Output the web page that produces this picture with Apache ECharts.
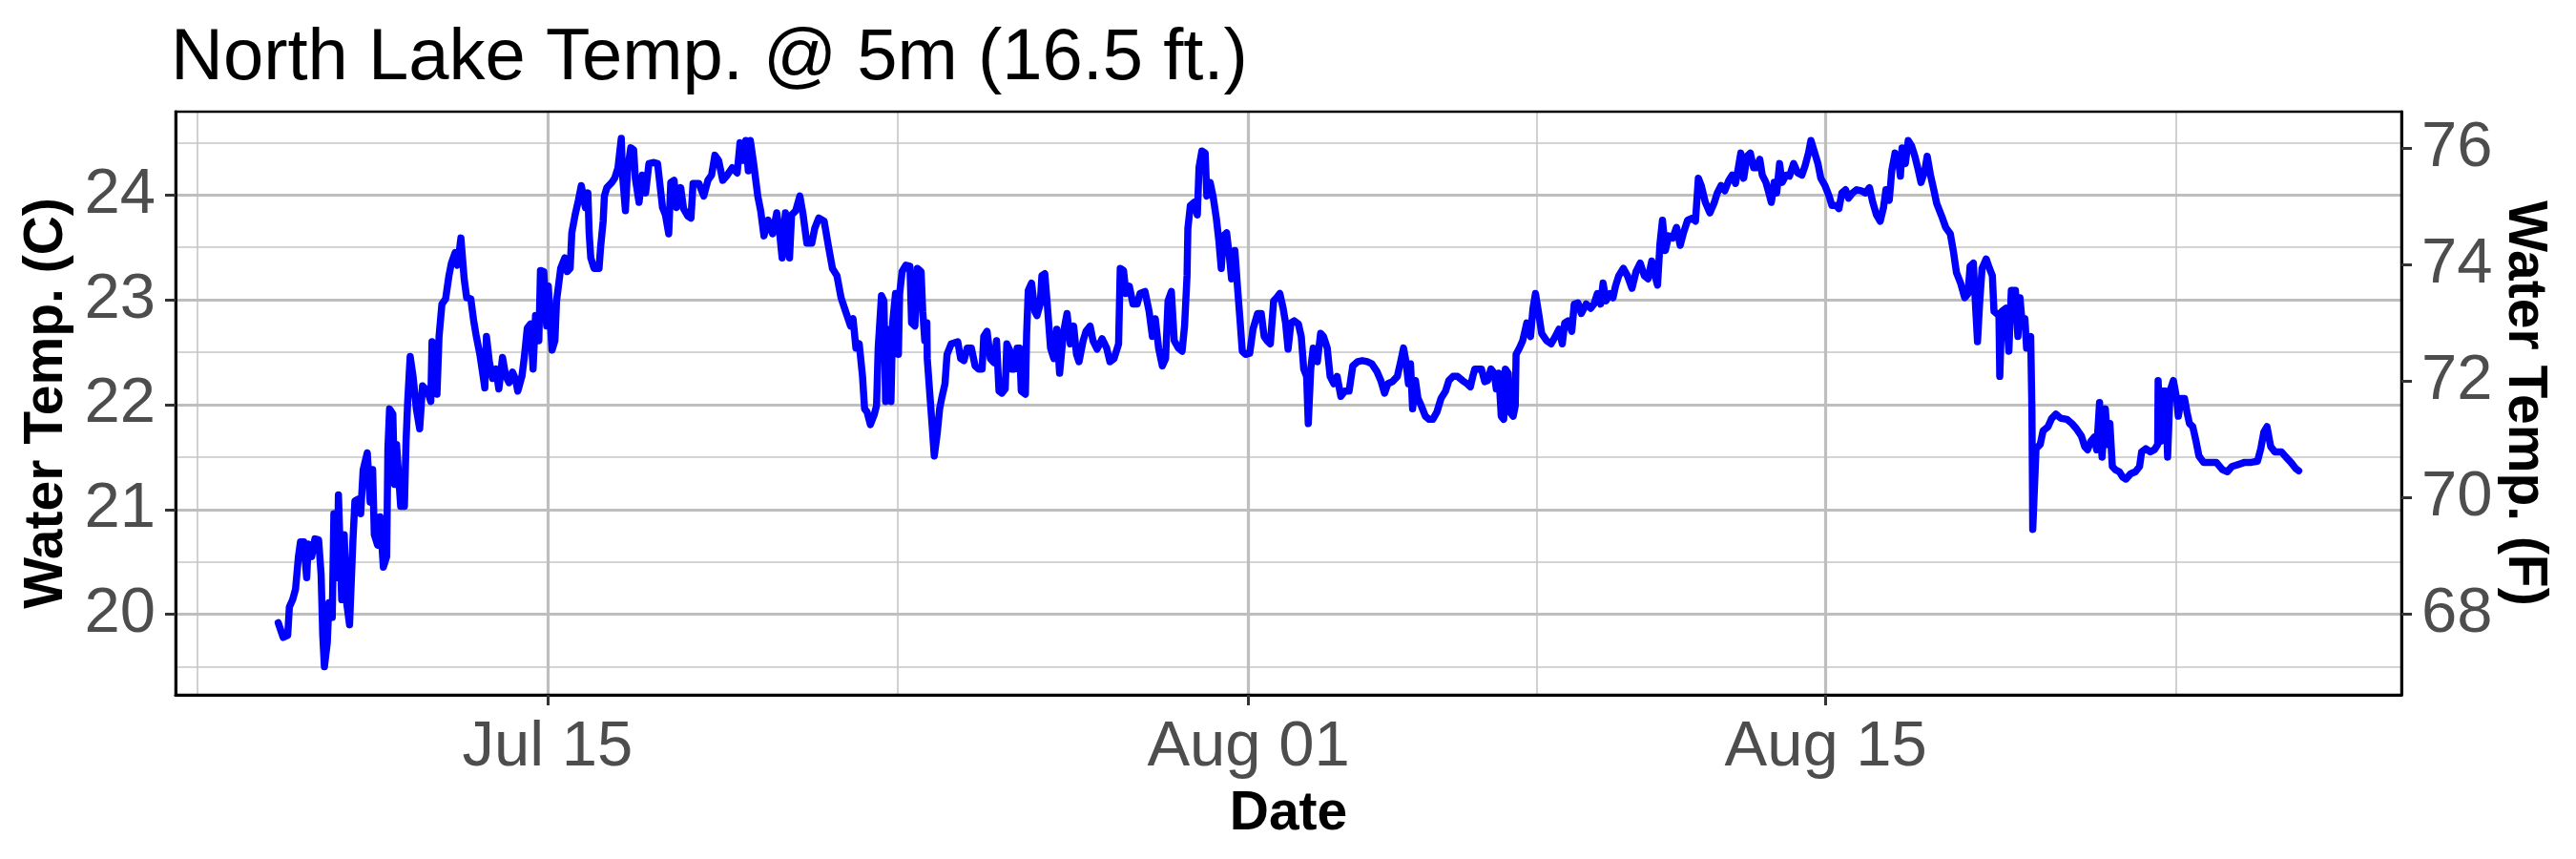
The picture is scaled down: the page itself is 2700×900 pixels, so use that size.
<!DOCTYPE html>
<html><head><meta charset="utf-8">
<script src="https://cdn.jsdelivr.net/npm/echarts@6.0.0/dist/echarts.min.js"></script>
<style>html,body{margin:0;padding:0;background:#fff}#c{width:2700px;height:900px}</style>
</head><body><div id="c"></div>
<script>
// x values are days after Jul 1 (Jul 15 = 14, Aug 01 = 31, Aug 15 = 45); y values are water temperature in deg C
const seg1 = [[7.47,19.92],[7.59,19.78],[7.70,19.80],[7.74,20.07],[7.82,20.14],[7.89,20.24],[7.96,20.55],[8.01,20.69],[8.09,20.69],[8.16,20.35],[8.20,20.67],[8.28,20.55],[8.36,20.72],[8.45,20.71],[8.51,20.38],[8.55,19.80],[8.59,19.50],[8.66,19.73],[8.70,20.11],[8.78,19.97],[8.82,20.96],[8.90,20.35],[8.93,21.14],[9.01,20.14],[9.07,20.76],[9.13,20.11],[9.20,19.90],[9.28,20.69],[9.33,21.08],[9.41,21.10],[9.47,20.96],[9.53,21.38],[9.63,21.54],[9.70,21.07],[9.76,21.38],[9.80,20.76],[9.88,20.66],[9.94,20.93],[10.02,20.45],[10.10,20.55],[10.13,21.58],[10.17,21.96],[10.25,21.91],[10.29,21.24],[10.34,21.62],[10.44,21.03],[10.53,21.03],[10.57,21.65],[10.61,22.03],[10.67,22.46],[10.74,22.27],[10.82,21.96],[10.90,21.77],[10.97,22.18],[11.09,22.13],[11.17,22.03],[11.20,22.60],[11.32,22.10],[11.37,22.65],[11.44,22.96],[11.53,23.01],[11.61,23.23],[11.67,23.35],[11.76,23.45],[11.82,23.33],[11.90,23.59],[11.98,23.20],[12.04,23.02],[12.14,23.01],[12.21,22.80],[12.27,22.66],[12.36,22.48],[12.44,22.27],[12.48,22.16],[12.52,22.65],[12.59,22.41],[12.67,22.25],[12.75,22.34],[12.82,22.15],[12.91,22.45],[12.99,22.27],[13.07,22.21],[13.15,22.31],[13.22,22.25],[13.28,22.13],[13.38,22.27],[13.44,22.46],[13.51,22.73],[13.59,22.77],[13.65,22.34],[13.71,22.85],[13.79,22.61],[13.83,23.28],[13.91,23.27],[13.98,22.75],[14.02,23.13],[14.11,22.52],[14.18,22.61],[14.22,22.99],[14.32,23.30],[14.42,23.40]];
const seg2 = [[14.48,23.27],[14.55,23.30],[14.59,23.64],[14.67,23.81],[14.75,23.95],[14.82,24.09],[14.92,23.88],[14.98,24.02],[15.01,23.64],[15.05,23.40],[15.13,23.30],[15.25,23.30],[15.29,23.51],[15.35,23.75],[15.38,23.99],[15.44,24.07],[15.56,24.12],[15.63,24.16],[15.71,24.26],[15.79,24.54],[15.82,24.19],[15.89,23.85],[15.94,24.23],[16.02,24.45],[16.09,24.43],[16.13,24.16],[16.22,23.93],[16.30,24.19],[16.38,24.02],[16.46,24.30],[16.56,24.31],[16.67,24.30],[16.73,24.09],[16.79,23.88],[16.86,23.81],[16.94,23.63],[16.99,24.12],[17.07,24.14],[17.13,23.88],[17.23,24.07],[17.30,23.87],[17.40,23.80],[17.48,23.78],[17.53,24.11],[17.67,24.11],[17.79,23.99],[17.89,24.14],[17.98,24.19],[18.06,24.38],[18.15,24.33],[18.25,24.14],[18.36,24.19],[18.48,24.26],[18.60,24.21],[18.67,24.50],[18.75,24.33],[18.81,24.52],[18.87,24.23],[18.92,24.52],[19.00,24.30],[19.10,23.99],[19.17,23.85],[19.25,23.61],[19.35,23.76],[19.46,23.63],[19.56,23.83],[19.63,23.64],[19.69,23.40],[19.77,23.83],[19.87,23.40],[19.92,23.81],[20.02,23.85],[20.12,23.99],[20.20,23.81],[20.29,23.54],[20.41,23.54],[20.48,23.68],[20.58,23.78],[20.71,23.75],[20.81,23.52],[20.91,23.30],[21.02,23.23],[21.12,23.02],[21.23,22.89],[21.35,22.75]];
const seg3 = [[21.41,22.82],[21.48,22.54],[21.56,22.58],[21.64,22.27],[21.69,21.96],[21.75,21.93],[21.83,21.81],[21.92,21.90],[21.98,21.99],[22.02,22.54],[22.10,23.04],[22.16,22.99],[22.20,22.03],[22.25,22.72],[22.33,22.03],[22.37,22.78],[22.44,23.06],[22.51,22.48],[22.54,23.06],[22.60,23.27],[22.69,23.33],[22.79,23.32],[22.83,22.78],[22.91,22.75],[22.97,23.30],[23.06,23.27],[23.10,22.89],[23.15,22.61],[23.20,22.78],[23.21,22.44],[23.28,22.06],[23.33,21.79],[23.38,21.51],[23.45,21.72],[23.51,21.96],[23.56,22.06],[23.64,22.20],[23.69,22.48],[23.79,22.58],[23.95,22.60],[24.02,22.44],[24.10,22.42],[24.18,22.54],[24.28,22.54],[24.37,22.37],[24.45,22.34],[24.54,22.34],[24.58,22.65],[24.66,22.70],[24.74,22.44],[24.83,22.40],[24.89,22.61],[24.95,22.13],[25.02,22.11],[25.10,22.15],[25.14,22.58],[25.22,22.51],[25.25,22.34],[25.33,22.34],[25.39,22.54],[25.45,22.54],[25.49,22.13],[25.59,22.10],[25.62,22.68],[25.66,23.09],[25.74,23.16],[25.82,22.89],[25.87,22.85],[25.95,22.96],[25.99,23.23],[26.06,23.25],[26.12,22.96],[26.20,22.54],[26.28,22.44],[26.35,22.72],[26.42,22.30],[26.51,22.68],[26.60,22.87],[26.68,22.58],[26.76,22.75],[26.83,22.48],[26.89,22.41],[26.99,22.61],[27.06,22.70],[27.16,22.75],[27.23,22.61],[27.33,22.53],[27.45,22.63],[27.56,22.54],[27.64,22.41],[27.74,22.44],[27.85,22.58],[27.89,23.30],[27.97,23.28],[28.03,23.06],[28.11,23.13],[28.20,22.96],[28.30,22.96],[28.37,23.06],[28.49,23.08]];
const seg4 = [[28.59,22.89],[28.67,22.65],[28.74,22.82],[28.82,22.54],[28.91,22.37],[28.99,22.44],[29.05,22.99],[29.13,23.08],[29.20,22.61],[29.30,22.54],[29.39,22.51],[29.45,22.75],[29.51,23.23],[29.53,23.68],[29.59,23.90],[29.68,23.93],[29.76,23.81],[29.80,24.26],[29.87,24.42],[29.95,24.40],[29.99,23.99],[30.07,24.12],[30.14,23.99],[30.22,23.78],[30.28,23.57],[30.34,23.30],[30.39,23.61],[30.47,23.64],[30.53,23.44],[30.59,23.20],[30.67,23.47],[30.74,23.09],[30.80,22.78],[30.85,22.51],[30.93,22.48],[31.03,22.49],[31.11,22.72],[31.22,22.87],[31.31,22.87],[31.38,22.65],[31.45,22.61],[31.53,22.58],[31.61,22.99],[31.68,23.02],[31.76,23.06],[31.84,22.92],[31.90,22.78],[31.96,22.53],[32.03,22.78],[32.11,22.80],[32.21,22.77],[32.28,22.65],[32.34,22.34],[32.41,22.27],[32.45,21.82],[32.51,22.34],[32.57,22.54],[32.67,22.41],[32.75,22.68],[32.82,22.65],[32.91,22.54],[32.98,22.27],[33.07,22.20],[33.15,22.27],[33.24,22.08],[33.34,22.13],[33.44,22.13],[33.53,22.37],[33.65,22.41],[33.76,22.42],[33.88,22.41],[33.99,22.39],[34.11,22.32],[34.21,22.23],[34.30,22.11],[34.38,22.20],[34.49,22.22],[34.61,22.27],[34.69,22.41],[34.76,22.54],[34.82,22.41],[34.88,22.20],[34.93,22.39],[34.98,21.96],[35.05,22.23],[35.11,22.06],[35.19,21.99],[35.29,21.89],[35.38,21.86],[35.47,21.86],[35.57,21.93],[35.67,22.06]];
const seg5 = [[35.78,22.13],[35.86,22.23],[35.96,22.27],[36.07,22.27],[36.19,22.23],[36.30,22.20],[36.38,22.17],[36.44,22.27],[36.49,22.34],[36.57,22.34],[36.65,22.34],[36.73,22.22],[36.80,22.23],[36.88,22.34],[36.96,22.30],[37.01,22.15],[37.07,22.30],[37.13,21.89],[37.19,21.86],[37.23,22.34],[37.30,22.30],[37.34,21.93],[37.42,21.89],[37.47,21.99],[37.49,22.48],[37.57,22.54],[37.65,22.61],[37.75,22.78],[37.84,22.65],[37.90,22.92],[37.96,23.06],[38.03,22.89],[38.11,22.68],[38.23,22.61],[38.34,22.58],[38.44,22.65],[38.53,22.72],[38.61,22.58],[38.67,22.78],[38.75,22.80],[38.84,22.70],[38.90,22.96],[38.99,22.97],[39.07,22.87],[39.19,22.96],[39.30,22.92],[39.38,22.96],[39.46,23.06],[39.54,22.96],[39.60,23.16],[39.67,22.99],[39.77,23.06],[39.84,23.02],[39.90,23.13],[39.98,23.23],[40.09,23.30],[40.19,23.23],[40.30,23.11],[40.40,23.27],[40.50,23.35],[40.60,23.23],[40.69,23.20],[40.78,23.37],[40.86,23.23],[40.92,23.14],[40.98,23.54],[41.04,23.76],[41.11,23.47],[41.19,23.61],[41.29,23.59],[41.38,23.69],[41.47,23.52],[41.55,23.64],[41.65,23.76],[41.77,23.78],[41.84,23.75],[41.91,24.16],[41.98,24.09],[42.08,23.93],[42.19,23.83],[42.29,23.92],[42.37,24.02],[42.46,24.09],[42.55,24.04],[42.65,24.14],[42.73,24.19],[42.81,24.11]];
const seg6 = [[42.88,24.26],[42.94,24.40],[43.01,24.16],[43.09,24.37],[43.17,24.40],[43.25,24.26],[43.32,24.26],[43.40,24.34],[43.46,24.19],[43.55,24.12],[43.62,24.02],[43.68,23.93],[43.75,24.12],[43.81,24.02],[43.88,24.30],[43.94,24.12],[44.04,24.19],[44.12,24.18],[44.22,24.30],[44.32,24.21],[44.42,24.19],[44.50,24.28],[44.58,24.40],[44.64,24.52],[44.71,24.43],[44.81,24.30],[44.88,24.16],[44.98,24.09],[45.08,23.99],[45.15,23.90],[45.25,23.90],[45.32,23.87],[45.39,24.02],[45.48,24.05],[45.55,23.97],[45.65,24.02],[45.75,24.05],[45.86,24.04],[45.96,24.02],[46.06,24.07],[46.14,23.93],[46.23,23.81],[46.32,23.75],[46.40,23.88],[46.46,24.05],[46.54,23.95],[46.60,24.23],[46.68,24.40],[46.76,24.35],[46.81,24.18],[46.85,24.45],[46.93,24.30],[47.00,24.52],[47.08,24.47],[47.16,24.37],[47.23,24.26],[47.31,24.12],[47.40,24.23],[47.46,24.37],[47.54,24.19],[47.62,24.05],[47.69,23.92],[47.81,23.80],[47.91,23.69],[48.02,23.63],[48.10,23.45],[48.17,23.26],[48.27,23.16],[48.37,23.02],[48.45,23.06],[48.50,23.32],[48.58,23.35],[48.63,22.96],[48.68,22.60],[48.73,22.96],[48.79,23.30],[48.89,23.39],[48.97,23.30],[49.04,23.23],[49.08,22.89],[49.20,22.85],[49.22,22.27],[49.27,22.89],[49.37,22.92],[49.44,22.51],[49.50,23.09],[49.60,23.09],[49.66,22.65],[49.71,23.02],[49.77,22.75],[49.83,22.82],[49.87,22.54],[49.97,22.65],[50.00,21.93]];
const seg7 = [[50.02,20.81],[50.10,21.58],[50.20,21.62],[50.27,21.75],[50.39,21.79],[50.48,21.87],[50.58,21.91],[50.70,21.87],[50.85,21.86],[50.97,21.82],[51.08,21.77],[51.20,21.70],[51.28,21.60],[51.35,21.57],[51.43,21.65],[51.51,21.69],[51.57,21.57],[51.64,22.02],[51.70,21.50],[51.78,21.96],[51.84,21.62],[51.89,21.82],[51.95,21.41],[52.02,21.38],[52.12,21.36],[52.20,21.31],[52.28,21.29],[52.39,21.34],[52.51,21.36],[52.61,21.41],[52.66,21.55],[52.76,21.58],[52.87,21.55],[52.97,21.57],[53.05,21.62],[53.06,22.23],[53.12,21.65],[53.16,22.13],[53.24,22.13],[53.29,21.50],[53.35,22.13],[53.43,22.23],[53.51,22.06],[53.55,21.89],[53.62,22.06],[53.70,22.06],[53.76,21.93],[53.82,21.82],[53.90,21.79],[53.98,21.65],[54.05,21.51],[54.16,21.45],[54.32,21.45],[54.47,21.45],[54.62,21.38],[54.74,21.36],[54.85,21.41],[55.01,21.43],[55.16,21.45],[55.32,21.45],[55.47,21.46],[55.55,21.58],[55.625,21.74],[55.70,21.79],[55.79,21.60],[55.89,21.55],[56.05,21.55],[56.16,21.50],[56.28,21.45],[56.40,21.39],[56.47,21.37]];

const xTickDays = [14, 31, 45];
const xTickLabels = ['Jul 15', 'Aug 01', 'Aug 15'];
const xMinorDays = [5.5, 22.5, 38, 53.5];
const yTicksC = [20, 21, 22, 23, 24];
const yMinorC = [19.5, 20.5, 21.5, 22.5, 23.5, 24.5];
const yTicksF = [68, 70, 72, 74, 76];
const xRange = [4.98, 58.96];
const yRangeC = [19.232, 24.795];

const FONT = '"Liberation Sans", Arial, sans-serif';
const allData = [].concat(seg1, seg2, seg3, seg4, seg5, seg6, seg7);
const toF = c => c * 1.8 + 32;

const majorStyle = { color: '#BEBEBE', width: 3.2, type: 'solid' };
const minorStyle = { color: '#C6C6C6', width: 1.6, type: 'solid' };
const gridMarks = [].concat(
  yMinorC.map(v => ({ yAxis: v, lineStyle: minorStyle })),
  xMinorDays.map(v => ({ xAxis: v, lineStyle: minorStyle })),
  yTicksC.map(v => ({ yAxis: v, lineStyle: majorStyle })),
  xTickDays.map(v => ({ xAxis: v, lineStyle: majorStyle }))
);

const tickStyle = { show: true, length: 11, lineStyle: { color: '#333333', width: 3 } };
const labelStyle = { fontSize: 67, color: '#4D4D4D', fontFamily: FONT };
const nameStyle = { fontSize: 57, fontWeight: 'bold', color: '#000', fontFamily: FONT };

const chart = echarts.init(document.getElementById('c'), null, { renderer: 'canvas' });
chart.setOption({
  animation: false,
  backgroundColor: '#fff',
  textStyle: { fontFamily: FONT },
  title: {
    text: 'North Lake Temp. @ 5m (16.5 ft.)',
    left: 174, top: 19,
    textStyle: { fontSize: 76, fontWeight: 'normal', color: '#000', fontFamily: FONT }
  },
  grid: { left: 184, right: 183, top: 117, bottom: 172, show: true, borderColor: '#000', borderWidth: 2.5, backgroundColor: 'transparent', z: 4 },
  xAxis: {
    type: 'value', min: xRange[0], max: xRange[1], z: 4,
    axisLine: { show: true, onZero: false, lineStyle: { color: '#000', width: 3 } },
    axisTick: Object.assign({ customValues: xTickDays }, tickStyle),
    axisLabel: Object.assign({ customValues: xTickDays, margin: 22,
      formatter: v => xTickLabels[xTickDays.indexOf(v)] || '' }, labelStyle),
    splitLine: { show: false },
    name: 'Date', nameLocation: 'middle', nameGap: 97, nameTextStyle: nameStyle
  },
  yAxis: [{
    type: 'value', position: 'left', min: yRangeC[0], max: yRangeC[1], z: 4,
    axisLine: { show: true, onZero: false, lineStyle: { color: '#000', width: 3 } },
    axisTick: Object.assign({ customValues: yTicksC }, tickStyle),
    axisLabel: Object.assign({ customValues: yTicksC, margin: 21, formatter: v => String(v) }, labelStyle),
    splitLine: { show: false },
    name: 'Water Temp. (C)', nameLocation: 'middle', nameRotate: 90, nameGap: 103, nameTextStyle: nameStyle
  }, {
    type: 'value', position: 'right', min: toF(yRangeC[0]), max: toF(yRangeC[1]), z: 4,
    axisLine: { show: true, onZero: false, lineStyle: { color: '#000', width: 3 } },
    axisTick: Object.assign({ customValues: yTicksF }, tickStyle),
    axisLabel: Object.assign({ customValues: yTicksF, margin: 21, formatter: v => String(v) }, labelStyle),
    splitLine: { show: false },
    name: 'Water Temp. (F)', nameLocation: 'middle', nameRotate: -90, nameGap: 100, nameMoveOverlap: false, nameTextStyle: nameStyle
  }],
  series: [{
    type: 'line', name: 'Temp', xAxisIndex: 0, yAxisIndex: 0, z: 3,
    data: allData, showSymbol: false, symbol: 'none', smooth: false,
    lineStyle: { color: '#0000FF', width: 7.5, cap: 'round', join: 'round' },
    markLine: {
      silent: true, symbol: ['none', 'none'], z: 1, animation: false,
      label: { show: false }, emphasis: { disabled: true },
      data: gridMarks
    }
  }]
});
</script>
</body></html>
